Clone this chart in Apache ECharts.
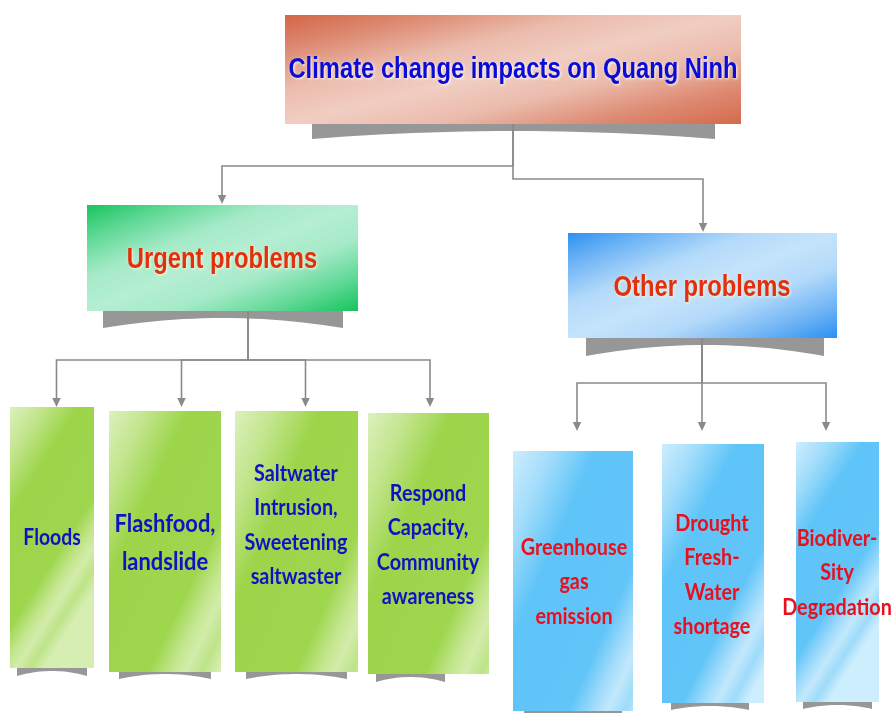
<!DOCTYPE html>
<html>
<head>
<meta charset="utf-8">
<script src="https://cdn.jsdelivr.net/npm/echarts@6/dist/echarts.min.js"></script>
<style>
html,body{margin:0;padding:0;background:#fff;}
#chart{width:894px;height:713px;}
</style>
</head>
<body>
<div id="chart"></div>
<script>
// ---------- DATA (text content of the diagram) ----------
const title = ['Climate change impacts on Quang Ninh'];
const groups = ['Urgent problems', 'Other problems'];
const urgentProblems = [
  'Floods',
  'Flashfood,\nlandslide',
  'Saltwater\nIntrusion,\nSweetening\nsaltwaster',
  'Respond\nCapacity,\nCommunity\nawareness'
];
const otherProblems = [
  'Greenhouse\ngas\nemission',
  'Drought\nFresh-\nWater\nshortage',
  'Biodiver-\nSity\nDegradation'
];

// ---------- LAYOUT (diagram units on hidden axes) ----------
const W = 894, H = 713;
const rootLayout = {box:[285,15,741,124], shadow:[312,715,139,131], text:[513,70]};
const groupLayout = [
  {box:[87,205,358,311], shadow:[103,343,328,318], text:[222,260]},
  {box:[568,233,837,338], shadow:[586,824,356,345], text:[702,288]}
];
const urgentLayout = [
  {box:[10,407,94,668],  shadow:[17,87,676,671],  text:[52,538], size:22.5},
  {box:[109,411,221,672],shadow:[119,211,679,674], text:[165,543], size:25.5},
  {box:[235,411,358,672],shadow:[246,347,679,674], text:[296,525], size:23},
  {box:[368,413,489,674],shadow:[376,445,682,677], text:[428,545], size:23}
];
const otherLayout = [
  {box:[513,451,633,711],shadow:[524,622,719,715], text:[574,582], size:23},
  {box:[662,444,764,703],shadow:[671,749,710,706], text:[712,575], size:23},
  {box:[796,442,879,702],shadow:[803,872,709,705], text:[837,573], size:23}
];
const edgeLayout = [
  // [startX, startY, busY, endX, tipY]
  [513,124,166,222,204],
  [513,124,179,703,232],
  [248,311,360,56.5,407],[248,311,360,181.5,407],[248,311,360,305.5,407],[248,311,360,430,407],
  [702,338,383,577,431],[702,338,383,702,431],[702,338,383,826,431]
];

// ---------- STYLES ----------
function lg(x2, y2, stops){
  return new echarts.graphic.LinearGradient(0,0,x2,y2, stops.map(s=>({offset:s[0], color:s[1]})));
}
const headFont = '"Liberation Sans", Arial, sans-serif';
const leafFont = 'Lato, "Open Sans", sans-serif';
const styles = {
  root: {fill: () => lg(0.11,1.89,[[0,'#d46548'],[0.16,'#dd8a72'],[0.34,'#ebbcad'],[0.5,'#f1cdc2'],[0.66,'#ebbcad'],[0.84,'#dd8a72'],[1,'#d66b4e']]),
         font: {color:'#0b0bd6', weight:'bold', family:headFont, sx:0.82, glow:'#ffffff'}},
  urgent: {fill: () => lg(0.265,1.73,[[0,'#18c45f'],[0.16,'#5fd895'],[0.34,'#a5eac8'],[0.5,'#b5eed3'],[0.66,'#a5eac8'],[0.84,'#5fd895'],[1,'#18c45f']]),
         font: {color:'#e2300f', weight:'bold', family:headFont, sx:0.82, glow:'#fff6d8'}},
  other: {fill: () => lg(0.265,1.73,[[0,'#2f90f2'],[0.16,'#71b6f5'],[0.34,'#b4dafa'],[0.5,'#c5e3fb'],[0.66,'#b4dafa'],[0.84,'#71b6f5'],[1,'#2f90f2']]),
         font: {color:'#e2300f', weight:'bold', family:headFont, sx:0.82, glow:'#fff6d8'}},
  green: {fill: () => lg(1.7,0.35,[[0,'#dcf1bd'],[0.16,'#c3e58e'],[0.34,'#9cd54a'],[0.7,'#9ed64e'],[0.8,'#c4e68f'],[0.86,'#d3ecaa'],[0.93,'#bde488'],[1,'#d6eeb2']]),
         font: {color:'#1111c4', weight:'bold', family:leafFont, sx:0.86, glow:null}},
  blue: {fill: () => lg(1.7,0.35,[[0,'#cdedfd'],[0.16,'#a3ddfb'],[0.34,'#5fc4f8'],[0.7,'#62c5f8'],[0.8,'#a2dcfb'],[0.86,'#c2e8fc'],[0.93,'#9edbfa'],[1,'#cdeefd']]),
         font: {color:'#e8101c', weight:'bold', family:leafFont, sx:0.86, glow:null}}
};
const SHADOW_COLOR = '#979797';
const LINE_COLOR = '#8a8a8a';

// ---------- BUILD NODES ----------
const nodes = [];
title.forEach((t,i)=>nodes.push({label:t, lay:rootLayout, st:styles.root, size:29, lh:34}));
groups.forEach((t,i)=>nodes.push({label:t, lay:groupLayout[i], st: i===0?styles.urgent:styles.other, size:29, lh:34}));
urgentProblems.forEach((t,i)=>nodes.push({label:t, lay:urgentLayout[i], st:styles.green, size:urgentLayout[i].size, lh: urgentLayout[i].size*1.5}));
otherProblems.forEach((t,i)=>nodes.push({label:t, lay:otherLayout[i], st:styles.blue, size:otherLayout[i].size, lh: 34.5}));

function renderNode(params, api){
  const n = nodes[params.dataIndex];
  const b = n.lay.box, s = n.lay.shadow;
  const p0 = api.coord([b[0], b[1]]), p1 = api.coord([b[2], b[3]]);
  // shadow with curved bottom
  const pts = [];
  const xa = s[0], xb = s[1], cx = (xa+xb)/2, hw = (xb-xa)/2;
  pts.push(api.coord([xa, b[3]-2]));
  pts.push(api.coord([xb, b[3]-2]));
  for(let k=0;k<=24;k++){
    const xx = xb - (xb-xa)*k/24;
    const t = (xx-cx)/hw;
    const yy = s[3] + (s[2]-s[3])*t*t;
    pts.push(api.coord([xx, yy]));
  }
  const c = api.coord(n.lay.text);
  const f = n.st.font;
  const textStyle = {
    text: n.label, x:0, y:0, fill: f.color,
    fontSize: n.size, fontWeight: f.weight, fontFamily: f.family,
    lineHeight: n.lh, align:'center', verticalAlign:'middle'
  };
  if (f.glow){
    textStyle.textShadowColor = f.glow;
    textStyle.textShadowBlur = 3;
    textStyle.textShadowOffsetX = 1;
    textStyle.textShadowOffsetY = 1;
  }
  return {
    type:'group',
    children:[
      {type:'polygon', shape:{points:pts}, style:{fill:SHADOW_COLOR}},
      {type:'rect', shape:{x:p0[0], y:p0[1], width:p1[0]-p0[0], height:p1[1]-p0[1]}, style:{fill:n.st.fill()}},
      {type:'text', x:c[0], y:c[1], scaleX:f.sx, scaleY:1, style:textStyle}
    ]
  };
}

function renderEdge(params, api){
  const e = edgeLayout[params.dataIndex];
  const arrowLen = 9, arrowHalf = 4.2;
  const a = api.coord([e[0], e[1]]);
  const b = api.coord([e[0], e[2]]);
  const c = api.coord([e[3], e[2]]);
  const d = api.coord([e[3], e[4]]);
  return {
    type:'group',
    children:[
      {type:'polyline', shape:{points:[a,b,c,[d[0], d[1]-arrowLen+1]]}, style:{stroke:LINE_COLOR, lineWidth:1.6, fill:null}},
      {type:'polygon', shape:{points:[[d[0]-arrowHalf, d[1]-arrowLen],[d[0]+arrowHalf, d[1]-arrowLen],[d[0], d[1]]]}, style:{fill:LINE_COLOR}}
    ]
  };
}

const chart = echarts.init(document.getElementById('chart'), null, {renderer:'canvas'});
chart.setOption({
  animation:false,
  backgroundColor:'#ffffff',
  grid:{left:0, right:0, top:0, bottom:0},
  xAxis:{type:'value', min:0, max:W, show:false},
  yAxis:{type:'value', min:0, max:H, inverse:true, show:false},
  series:[
    {type:'custom', name:'nodes', renderItem:renderNode, data: nodes.map((n,i)=>[n.lay.text[0], n.lay.text[1]]), z:2, silent:true},
    {type:'custom', name:'connectors', renderItem:renderEdge, data: edgeLayout.map(e=>[e[3], e[4]]), z:3, silent:true}
  ]
});
</script>
</body>
</html>
